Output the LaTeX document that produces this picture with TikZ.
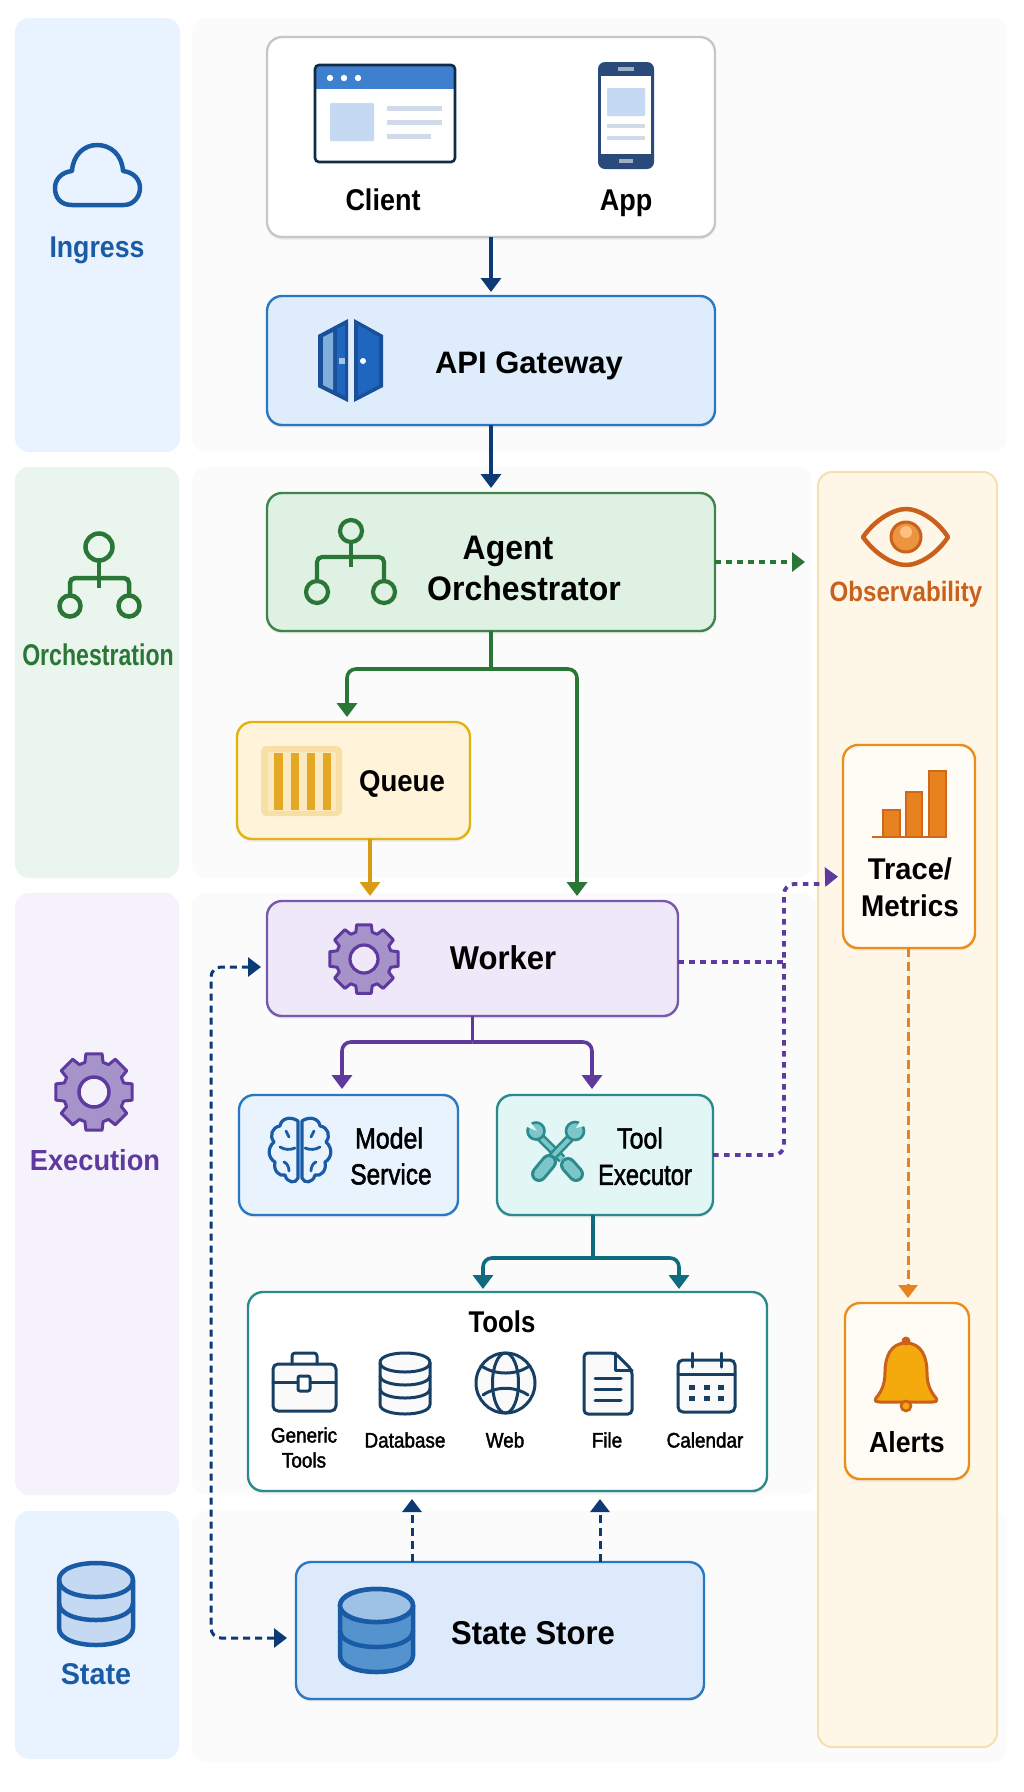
\documentclass[tikz,border=0pt]{standalone}
\usepackage{fontspec}
\setmainfont{Liberation Sans}
\usetikzlibrary{arrows.meta,shadows,calc}
\definecolor{navy}{HTML}{0B3A75}
\definecolor{blueS}{HTML}{1A5BA6}
\definecolor{blueB}{HTML}{2B78C2}
\definecolor{greenS}{HTML}{2A7637}
\definecolor{purpS}{HTML}{5E3A9F}
\definecolor{tealS}{HTML}{0F6C7F}
\definecolor{teal2}{HTML}{2A8A8C}
\definecolor{amberS}{HTML}{D99A14}
\definecolor{orgS}{HTML}{E8821E}
\definecolor{orgT}{HTML}{C9601C}
\definecolor{icon}{HTML}{173F63}
\definecolor{paleblue}{HTML}{C5D9F2}
\definecolor{paleline}{HTML}{D0DAE8}
\definecolor{toolbg}{HTML}{E2F6F6}
\definecolor{toolfill}{HTML}{7CC5C8}
\tikzset{
  panel/.style={draw=none,rounded corners=14pt,inner sep=0pt,outer sep=0pt},
  box/.style={rounded corners=15pt,inner sep=0pt,outer sep=0pt,line width=2.4pt,
    drop shadow={shadow xshift=0pt,shadow yshift=-2.5pt,opacity=.07,fill=black}},
  arr/.style={line width=3.6pt,-{Triangle[width=20pt,length=14pt]}},
  dotline/.style={line width=3.8pt,dash pattern=on 5.5pt off 5.5pt},
  dashline/.style={line width=3pt,dash pattern=on 8pt off 5pt},
  tip/.style={-{Triangle[width=19pt,length=13pt]}},
  ic/.style={line width=3pt,draw=icon,line join=round,line cap=round},
}
\newcommand{\boxat}[6]{%
  \pgfmathsetmacro\rbw{#4-#2}\pgfmathsetmacro\rbh{#5-#3}%
  \pgfmathsetmacro\rbx{(#2+#4)/2}\pgfmathsetmacro\rby{(#3+#5)/2}%
  \node[#6,minimum width=\rbw pt,minimum height=\rbh pt] (#1) at (\rbx,\rby) {};}
\newcommand{\lbl}[7]{\node[font=\fontsize{#4}{#4}\selectfont\bfseries,text=#6,xscale=#5,inner sep=0pt] (#1) at (#2,#3) {#7};}
\newcommand{\lbm}[7]{\node[font=\fontsize{#4}{#4}\selectfont\addfontfeature{FakeBold=2},text=#6,xscale=#5,inner sep=0pt] (#1) at (#2,#3) {#7};}
\newcommand{\gearicon}[3]{%
  \draw[fill=#3,draw=purpS,line width=3pt,line join=round]
    (-12:#1) \foreach \a in {0,45,...,315}{ -- ({\a-12}:#1) -- ({\a+12}:#1) -- ({\a+17}:#2) -- ({\a+28}:#2) } -- cycle;}
% drum: left top right bottom ry fill stroke lw, bands at given offset
\newcommand{\drum}[9]{%
  \draw[fill=#6,draw=#7,line width=#8pt,line join=round]
    (#1,#2+#5) -- (#1,#4-#5) .. controls (#1,#4+#5/3) and (#3,#4+#5/3) .. (#3,#4-#5) -- (#3,#2+#5)
    .. controls (#3,#2-#5/3) and (#1,#2-#5/3) .. (#1,#2+#5) -- cycle;
  \draw[draw=#7,line width=#8pt]
    (#1,#2+#5) .. controls (#1,#2+#5*7/3) and (#3,#2+#5*7/3) .. (#3,#2+#5);
  \foreach \k in {#9}{
    \draw[draw=#7,line width=#8pt]
    (#1,#2+#5+\k) .. controls (#1,#2+#5*7/3+\k) and (#3,#2+#5*7/3+\k) .. (#3,#2+#5+\k);}
}
\begin{document}
\begin{tikzpicture}[x=1pt,y=-1pt]
\useasboundingbox (0,0) rectangle (1024,1792);
\fill[white] (0,0) rectangle (1024,1792);
% ---------- lane backgrounds
\boxat{bgIngress}{192}{18}{1007}{452}{panel,fill=black!1.5}
\boxat{bgOrch}{192}{467}{812}{878}{panel,fill=black!1.5}
\boxat{bgExec}{192}{893}{816}{1495}{panel,fill=black!1.5}
\boxat{bgState}{192}{1511}{1007}{1762}{panel,fill=black!1.5}
\definecolor{laneB}{HTML}{E9F3FF}
\definecolor{laneG}{HTML}{EAF6ED}
\definecolor{laneP}{HTML}{F5F2FC}
\definecolor{laneO}{HTML}{FEF6E7}
\definecolor{laneOb}{HTML}{F6E0B0}
\boxat{laneIngress}{15}{18}{180}{452}{panel,fill=laneB}
\boxat{laneOrch}{15}{467}{179}{878}{panel,fill=laneG}
\boxat{laneExec}{15}{893}{179}{1495}{panel,fill=laneP}
\boxat{laneState}{15}{1511}{179}{1759}{panel,fill=laneB}
\boxat{obs}{818}{472}{997}{1747}{panel,fill=laneO,draw=laneOb,line width=2pt}
% ---------- boxes
\definecolor{fGw}{HTML}{DEECFC}
\definecolor{fOr}{HTML}{DFF1E3}
\definecolor{fQu}{HTML}{FFF4DA}
\definecolor{fWo}{HTML}{EEE8F9}
\definecolor{fMo}{HTML}{E8F3FE}
\definecolor{fSt}{HTML}{DCEAFB}
\definecolor{fTr}{HTML}{FFFCF6}
\boxat{client}{267}{37}{715}{237}{box,fill=white,draw=black!22}
\boxat{gw}{267}{296}{715}{425}{box,fill=fGw,draw=blueB}
\boxat{orch}{267}{493}{715}{631}{box,fill=fOr,draw=greenS!90!white}
\boxat{queue}{237}{722}{470}{839}{box,fill=fQu,draw=amberS!75!yellow}
\boxat{worker}{267}{901}{678}{1016}{box,fill=fWo,draw=purpS!85!white}
\boxat{model}{239}{1095}{458}{1215}{box,fill=fMo,draw=blueB}
\boxat{tool}{497}{1095}{713}{1215}{box,fill=toolbg,draw=teal2}
\boxat{tools}{248}{1292}{767}{1491}{box,fill=white,draw=teal2}
\boxat{store}{296}{1562}{704}{1699}{box,fill=fSt,draw=blueB}
\boxat{trace}{843}{745}{975}{948}{box,fill=fTr,draw=orgS!90!yellow}
\boxat{alerts}{845}{1303}{969}{1479}{box,fill=fTr,draw=orgS!90!yellow}
% ---------- junctions
\coordinate (orchJ) at (491,669);
\coordinate (workJ) at (472.5,1042);
\coordinate (toolJ) at (593,1258);
\coordinate (leftbus) at (211,1300);
\coordinate (bus) at (784,1000);
\coordinate (jogA) at (822,884);
\coordinate (jogB) at (826,877);
% ---------- connectors
\draw[arr,navy,shorten >=4pt] (client.south) -- (gw.north);
\draw[arr,navy,shorten >=5pt] (gw.south) -- (orch.north);
\draw[dotline,greenS,tip,shorten >=13pt] (orch.east) -- (orch.east -| obs.west);
\draw[line width=3.6pt,greenS] (orch.south) -- (orchJ);
\draw[arr,greenS,rounded corners=9pt,shorten >=5pt] (orchJ) -| ([xshift=-6.5pt]queue.north);
\draw[arr,greenS,rounded corners=9pt,shorten >=5pt] (orchJ) -| ([xshift=104.5pt]worker.north);
\draw[arr,amberS,shorten >=5pt] ([xshift=16.5pt]queue.south) -- ([xshift=16.5pt]queue.south |- worker.north);
\draw[line width=3.6pt,purpS] (worker.south) -- (workJ);
\draw[arr,purpS,rounded corners=9pt,shorten >=6pt] (workJ) -| ([xshift=-6.5pt]model.north);
\draw[arr,purpS,rounded corners=9pt,shorten >=6pt] (workJ) -| ([xshift=-13pt]tool.north);
\draw[line width=3.6pt,tealS] ([xshift=-12pt]tool.south) -- (toolJ);
\draw[arr,tealS,rounded corners=9pt,shorten >=3pt] (toolJ) -| ([xshift=-24.5pt]tools.north);
\draw[arr,tealS,rounded corners=9pt,shorten >=3pt] (toolJ) -| ([xshift=171.5pt]tools.north);
\draw[dashline,navy,tip,shorten >=8pt] ([xshift=-88pt]store.north) -- ([xshift=-88pt]store.north |- tools.south);
\draw[dashline,navy,tip,shorten >=8pt] ([xshift=100pt]store.north) -- ([xshift=100pt]store.north |- tools.south);
\draw[dashline,dash pattern=on 7pt off 5pt,navy,{Triangle[width=19pt,length=13pt]}-{Triangle[width=19pt,length=13pt]},rounded corners=10pt,shorten <=6pt,shorten >=9pt]
  ([yshift=-8.5pt]worker.west) -| (leftbus) |- ([yshift=-7.5pt]store.west);
\draw[dotline,purpS] ([yshift=-3.5pt]worker.east) -- ([yshift=-3.5pt]worker.east -| bus);
\draw[dotline,purpS,rounded corners=10pt] (tool.east) -| (bus) |- (jogA);
\draw[line width=3pt,purpS,tip,shorten >=5pt] (jogB) -- ([yshift=-30pt]trace.west);
\draw[dashline,dash pattern=on 9pt off 5pt,orgS,tip,shorten >=5pt] ([xshift=-1pt]trace.south) -- ([xshift=-1pt]trace.south |- alerts.north);
% ---------- lane icons and labels
\draw[line width=4.5pt,blueS,line join=round]
 (72,205) .. controls (60,205) and (55,197) .. (55,188) .. controls (55,179) and (62,172) .. (72,171)
 .. controls (73,155) and (84,145) .. (97,145) .. controls (111,145) and (122,155) .. (123,171)
 .. controls (133,172) and (140,179) .. (140,188) .. controls (140,197) and (133,205) .. (124,205) -- cycle;
\lbl{tIngress}{97}{250}{30}{.89}{blueS}{Ingress}
\begin{scope}[greenS,line width=4.5pt]
 \draw (99,547) circle[radius=13.5];
 \draw (70,606) circle[radius=10.5];
 \draw (129,606) circle[radius=10.5];
 \draw[rounded corners=5pt] (70,595) -- (70,578) -- (129,578) -- (129,595);
 \draw (99,561) -- (99,588);
\end{scope}
\lbl{tOrchLane}{98}{655}{30}{.77}{greenS}{Orchestration}
\begin{scope}[shift={(94,1092)}]
 \gearicon{39}{31}{purpS!55!white}
 \draw[fill=laneP,draw=purpS,line width=3.5pt] (0,0) circle[radius=15];
\end{scope}
\lbl{tExecLane}{95}{1160}{29}{.94}{purpS}{Execution}
\drum{59}{1563}{133}{1645}{17}{paleblue}{blueS}{4.5}{23}
\lbl{tStateLane}{96}{1674}{30}{.96}{blueS}{State}
% ---------- client: browser
\draw[fill=white,draw=none,rounded corners=4pt] (315,65) rectangle (455,162);
\definecolor{brH}{HTML}{3F7FCF}
\fill[brH,rounded corners=4pt] (315,65) rectangle (455,80);
\fill[brH] (315,76) rectangle (455,89);
\draw[line width=2.6pt,icon!70!black,rounded corners=4pt] (315,65) rectangle (455,162);
\foreach \p in {330,344,358}{\fill[white] (\p,78) circle[radius=3.2];}
\fill[paleblue,rounded corners=1pt] (330,103) rectangle (374,141);
\foreach \q/\r in {108/442,122/442,136/431}{\draw[line width=5pt,paleline] (387,\q) -- (\r,\q);}
% ---------- client: phone
\definecolor{phB}{HTML}{2B4A7C}
\fill[phB,rounded corners=7pt] (598,62) rectangle (654,169);
\fill[white] (601,76) rectangle (651,154);
\fill[white!55!phB] (618,67) rectangle ++(16,4);
\fill[white!55!phB] (619,159) rectangle ++(14,4);
\fill[paleblue,rounded corners=1pt] (607,88) rectangle (645,116);
\draw[line width=4.5pt,paleline] (607,126) -- (645,126);
\draw[line width=4.5pt,paleline] (607,138) -- (645,138);
\lbl{tClient}{383}{200}{30}{.9}{black}{Client}
\lbl{tApp}{626}{203}{30}{.9}{black}{App}
% ---------- gateway: door
\definecolor{doorD}{HTML}{1A4F9A}
\definecolor{doorM}{HTML}{1F66BE}
\fill[doorD] (348,319) -- (318,335) -- (318,387) -- (348,402) -- cycle;
\fill[blueB!60!white] (333,332) -- (323,337) -- (323,385) -- (333,390) -- cycle;
\fill[doorM] (337,329) -- (345,325) -- (345,396) -- (337,392) -- cycle;
\fill[doorD] (354,319) -- (383,335) -- (383,387) -- (354,402) -- cycle;
\fill[doorM] (358,325) -- (379,337) -- (379,385) -- (358,396) -- cycle;
\fill[white!60!doorM] (339,358) rectangle (345,364);
\fill[white] (363,361) circle[radius=3];
\lbl{tGateway}{529}{366}{31}{1}{black}{API Gateway}
% ---------- orchestrator
\begin{scope}[greenS,line width=4.2pt]
 \draw (351,531) circle[radius=11];
 \draw (317,592) circle[radius=11];
 \draw (384,592) circle[radius=11];
 \draw[rounded corners=5pt] (317,580) -- (317,557) -- (384,557) -- (384,580);
 \draw (351,543) -- (351,567);
\end{scope}
\lbl{tAgent}{508}{551}{34}{.94}{black}{Agent}
\lbl{tOrch}{524}{588}{34}{.94}{black}{Orchestrator}
% ---------- queue
\definecolor{quO}{HTML}{F7DFA6}
\definecolor{quI}{HTML}{FBE9BF}
\definecolor{quB}{HTML}{E5A824}
\fill[quO,rounded corners=6pt] (261,746) rectangle (342,816);
\fill[quI] (268,752) rectangle (336,811);
\foreach \u/\v in {274/283,291/299,307/315,323/331}{\fill[quB] (\u,753) rectangle (\v,810);}
\lbl{tQueue}{402}{784}{30}{.92}{black}{Queue}
% ---------- worker
\begin{scope}[shift={(364,959)}]
 \gearicon{35}{28}{purpS!55!white}
 \draw[fill=fWo,draw=purpS,line width=3.2pt] (0,0) circle[radius=14];
\end{scope}
\lbl{tWorker}{503}{958}{33}{.94}{black}{Worker}
% ---------- model
\begin{scope}[shift={(300,1150)}]
 \foreach \s in {1,-1}{
 \begin{scope}[xscale=\s]
  \draw[blueS,line width=3.2pt,line join=round]
   (-2,-29) .. controls (-9,-34) and (-19,-32) .. (-20,-24) .. controls (-28,-23) and (-31,-14) .. (-26,-8)
   .. controls (-33,-2) and (-32,8) .. (-25,12) .. controls (-27,20) and (-21,27) .. (-15,25)
   .. controls (-13,33) and (-4,34) .. (-2,28) -- cycle;
  \draw[blueS,line width=2.8pt,line cap=round]
    (-14,-19) -- (-11,-13) (-20,-3) .. controls (-15,0) and (-10,0) .. (-5,-2)
    (-16,12) .. controls (-13,13) and (-11,17) .. (-11,21);
 \end{scope}}
\end{scope}
\lbm{tModel}{389}{1138}{29}{.86}{black}{Model}
\lbm{tService}{391}{1174}{29}{.84}{black}{Service}
% ---------- tool executor
\draw[line width=9pt,teal2] (539,1136) -- (562,1159);
\draw[line width=4pt,toolfill] (539,1136) -- (562,1159);
\draw[fill=toolfill,draw=teal2,line width=2.6pt] (536,1131) circle[radius=8.5];
\fill[toolbg] (529,1120) -- (537,1131) -- (525,1126) -- cycle;
\draw[line width=16pt,teal2,line cap=round] (568,1165) -- (576,1174);
\draw[line width=10pt,toolfill,line cap=round] (568,1165) -- (576,1174);
\draw[line width=9pt,teal2] (572,1136) -- (551,1158);
\draw[line width=4pt,toolfill] (572,1136) -- (551,1158);
\draw[fill=toolfill,draw=teal2,line width=2.6pt] (575,1131) circle[radius=9];
\fill[toolbg] (580,1121) -- (576,1128) -- (585,1126) -- cycle;
\draw[line width=16pt,teal2,line cap=round] (549,1162) -- (539,1174);
\draw[line width=10pt,toolfill,line cap=round] (549,1162) -- (539,1174);
\lbm{tTool}{640}{1138}{29}{.86}{black}{Tool}
\lbm{tExecutor}{645}{1175}{29}{.82}{black}{Executor}
% ---------- tools box
\lbl{tToolsHead}{502}{1322}{30}{.86}{black}{Tools}
% briefcase
\draw[ic,fill=black!2,rounded corners=5pt] (273,1364) rectangle (336,1411);
\draw[ic,rounded corners=3pt] (292,1364) -- (292,1353) -- (317,1353) -- (317,1364);
\draw[ic] (273,1382) -- (298,1382) (310,1382) -- (336,1382);
\draw[ic,fill=white,rounded corners=2pt] (298,1376) rectangle (310,1391);
% database
\drum{380}{1353}{430}{1414}{9.5}{black!2}{icon}{3}{13,26}
% globe
\draw[ic,fill=black!2] (505.5,1383) ellipse[x radius=29.5,y radius=30];
\draw[ic] (505.5,1383) ellipse[x radius=13,y radius=30];
\draw[ic] (483,1367) .. controls (496,1375) and (515,1375) .. (528,1367)
          (483,1395) .. controls (496,1386) and (515,1386) .. (528,1395);
% file
\draw[ic,fill=black!2,rounded corners=4pt] (584,1353) -- (615,1353) -- (632,1370) -- (632,1414) -- (584,1414) -- cycle;
\draw[ic] (615,1353) -- (615,1370) -- (632,1370);
\draw[ic] (595,1378) -- (621,1378) (595,1389) -- (621,1389) (595,1400) -- (621,1400);
% calendar
\draw[ic,fill=black!2,rounded corners=5pt] (678,1360) rectangle (735,1412);
\draw[ic] (678,1374) -- (735,1374) (692,1353) -- (692,1367) (721,1353) -- (721,1367);
\foreach \cx in {692,707,721}{\foreach \cy in {1387,1398}{\fill[icon] (\cx-3,\cy-2.5) rectangle (\cx+3,\cy+2.5);}}
\lbm{tGeneric}{304}{1435}{21}{.9}{black}{Generic}
\lbm{tGenTools}{304}{1460}{21}{.9}{black}{Tools}
\lbm{tDatabase}{405}{1440}{21}{.9}{black}{Database}
\lbm{tWeb}{505}{1440}{21}{.9}{black}{Web}
\lbm{tFile}{607}{1440}{21}{.9}{black}{File}
\lbm{tCalendar}{705}{1440}{21}{.9}{black}{Calendar}
% ---------- state store
\drum{340}{1589}{413}{1672}{16.5}{blueB!80!white}{blueS}{4.5}{25}
\draw[fill=paleblue!75!blueB,draw=blueS,line width=4.5pt] (376.5,1605.5) ellipse[x radius=36.5,y radius=16.5];
\lbl{tStore}{533}{1633}{33}{.94}{black}{State Store}
% ---------- observability
\draw[line width=4.5pt,orgT,line join=round] (863,537) .. controls (875,520) and (893,509) .. (906,509) .. controls (919,509) and (937,520) .. (948,537) .. controls (937,554) and (919,565) .. (906,565) .. controls (893,565) and (875,554) .. (863,537) -- cycle;
\draw[fill=orgS!85!white,draw=orgT,line width=3pt] (906,537) circle[radius=15];
\fill[orange!50!white] (906,532) circle[radius=6];
\lbl{tObs}{906}{594}{28}{.86}{orgT}{Observability}
\draw[fill=orgS,draw=orgT!80!orgS,line width=1.5pt] (883,810) rectangle (900,837);
\draw[fill=orgS,draw=orgT!80!orgS,line width=1.5pt] (906,792) rectangle (922,837);
\draw[fill=orgS,draw=orgT!80!orgS,line width=1.5pt] (929,771) rectangle (946,837);
\draw[line width=2.5pt,orgT!80!orgS] (872,837) -- (946,837);
\lbl{tTrace}{910}{869}{30}{.97}{black}{Trace/}
\lbl{tMetrics}{910}{906}{30}{.93}{black}{Metrics}
\definecolor{bell}{HTML}{F4A90C}
\draw[fill=bell,draw=orgT,line width=3pt,line join=round] (906,1343) .. controls (890,1343) and (885,1358) .. (885,1372) .. controls (885,1385) and (881,1392) .. (876,1398) .. controls (874,1401) and (876,1402) .. (880,1402) -- (932,1402) .. controls (936,1402) and (938,1401) .. (936,1398) .. controls (931,1392) and (927,1385) .. (927,1372) .. controls (927,1358) and (922,1343) .. (906,1343) -- cycle;
\fill[orgT] (906,1341) circle[radius=4.5];
\draw[fill=bell,draw=orgT,line width=2.6pt] (906,1406) circle[radius=5];
\lbl{tAlerts}{907}{1442}{29}{.92}{black}{Alerts}
\end{tikzpicture}
\end{document}
